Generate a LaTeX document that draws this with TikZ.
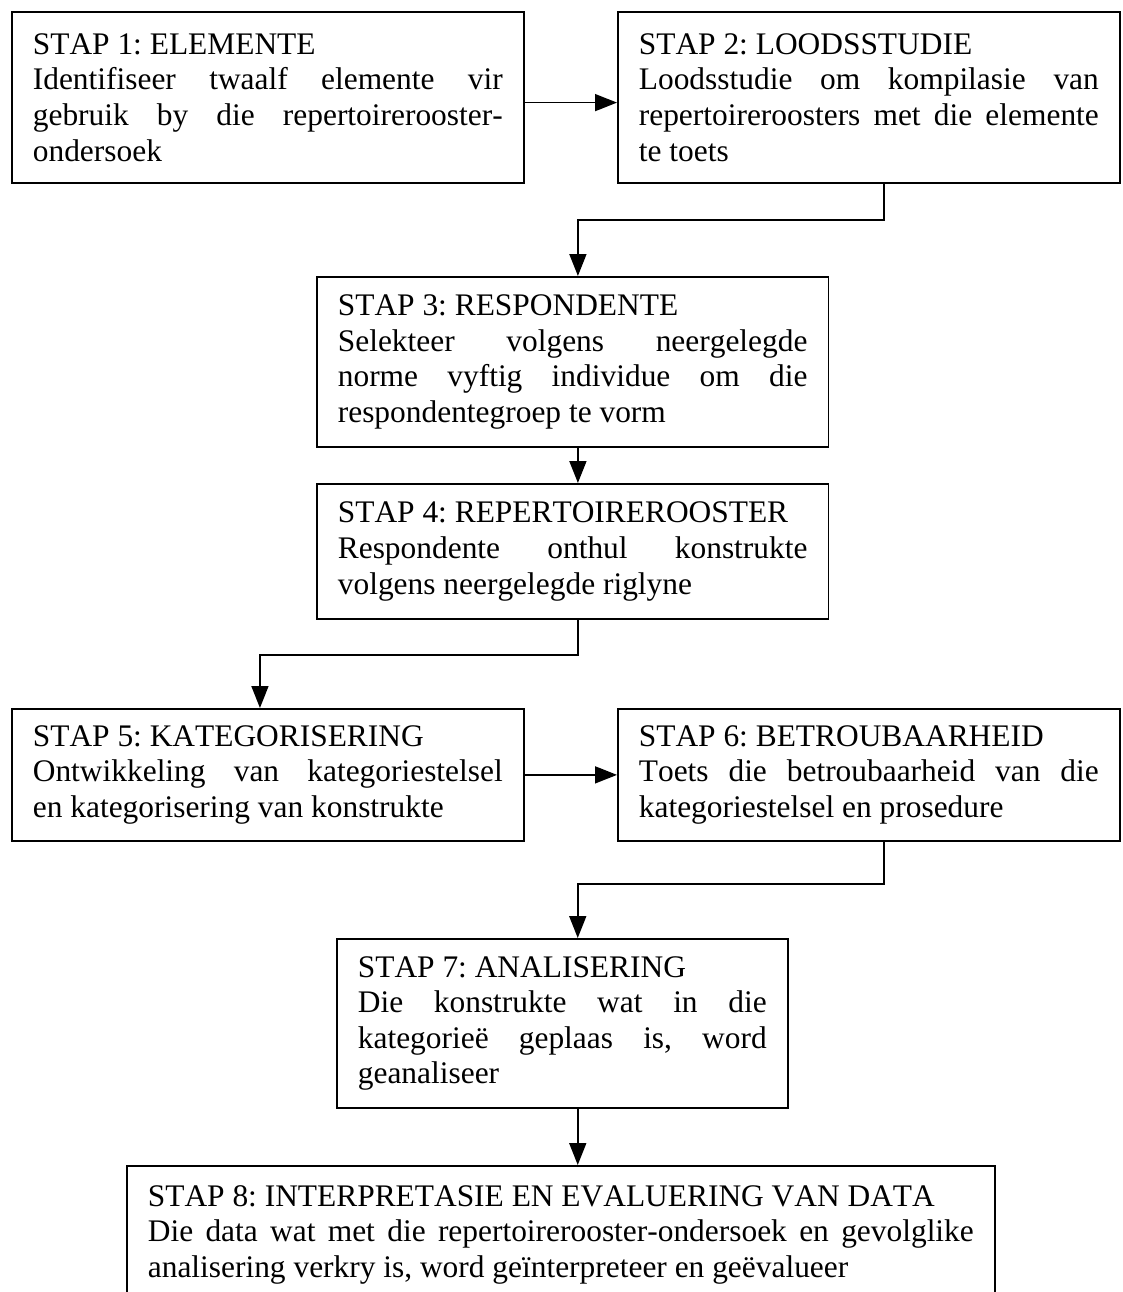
\documentclass[tikz,border=0pt]{standalone}
\usepackage{fontspec}
\setmainfont{Liberation Serif}[Kerning=Off]
\usepackage{tikz}
\usetikzlibrary{arrows.meta}
\setlength{\parindent}{0pt}
\hyphenpenalty=10000
\tolerance=10000
\frenchspacing

\begin{document}
\begin{tikzpicture}[
      x=0.382pt, y=-0.382pt,
      stap/.style={
        draw,
        rectangle,
        line width=0.7pt,
        anchor=north west,
        align=justify,
        inner xsep=8pt,
        inner ysep=3pt,
        font=\fontsize{12}{13.6}\selectfont
      },
      pyl/.style={
        line width=0.6pt,
        -{Triangle[length=8.4pt,width=6.5pt]}
      }
    ]
    \useasboundingbox (0,0) rectangle (1122,1292);
    \clip (0,0) rectangle (1122,1292);
    %% Stappe
    \node[stap, text width=179.5pt, minimum height=65.3pt] (s1) at (11,11) {STAP 1: ELEMENTE\\
      Identifiseer twaalf elemente vir\linebreak gebruik by die repertoirerooster-\linebreak ondersoek};
    \node[stap, text width=175.7pt, minimum height=65.3pt] (s2) at (617,11) {STAP 2: LOODSSTUDIE\\
      Loodsstudie om kompilasie van\linebreak repertoireroosters met die elemente\linebreak te toets};
    \node[stap, text width=179.4pt, minimum height=64.9pt] (s3) at (316,276) {STAP 3: RESPONDENTE\\
      Selekteer volgens neergelegde\linebreak norme vyftig individue om die\linebreak respondentegroep te vorm};
    \node[stap, text width=179.4pt, minimum height=51.6pt] (s4) at (316,483) {STAP 4: REPERTOIREROOSTER\\
      Respondente onthul konstrukte\linebreak volgens neergelegde riglyne};
    \node[stap, text width=179.5pt, minimum height=50.4pt] (s5) at (11,708) {STAP 5: KATEGORISERING\\
      Ontwikkeling van kategoriestelsel\linebreak en kategorisering van konstrukte};
    \node[stap, text width=175.7pt, minimum height=50.4pt] (s6) at (617,708) {STAP 6: BETROUBAARHEID\\
      Toets die betroubaarheid van die\linebreak kategoriestelsel en prosedure};
    \node[stap, text width=156.2pt, minimum height=64.6pt] (s7) at (336,938) {STAP 7: ANALISERING\\
      Die konstrukte wat in die\linebreak kategorieë geplaas is, word\linebreak geanaliseer};
    \node[stap, text width=315.5pt, minimum height=52.7pt] (s8) at (126,1165) {STAP 8: INTERPRETASIE EN EVALUERING VAN DATA\\
      Die data wat met die repertoirerooster-ondersoek en gevolglike\linebreak analisering verkry is, word geïnterpreteer en geëvalueer};
    %% Pyle
    \draw[pyl] ([yshift=-2pt]s1.east) -- ([yshift=-2pt]s2.west);
    \draw[pyl] ([xshift=5.7pt]s2.south) -- ++(0,36) -| ([xshift=2pt]s3.north);
    \draw[pyl] ([xshift=2pt]s3.south) -- ([xshift=2pt]s4.north);
    \draw[pyl] ([xshift=2pt]s4.south) -- ++(0,35) -| ([xshift=-3pt]s5.north);
    \draw[pyl] (s5.east) -- (s6.west);
    \draw[pyl] ([xshift=5.7pt]s6.south) -- ++(0,42) -| ([xshift=5.9pt]s7.north);
    \draw[pyl] ([xshift=5.9pt]s7.south) -- ([xshift=5.9pt]s7.south |- s8.north);
\end{tikzpicture}
\end{document}
